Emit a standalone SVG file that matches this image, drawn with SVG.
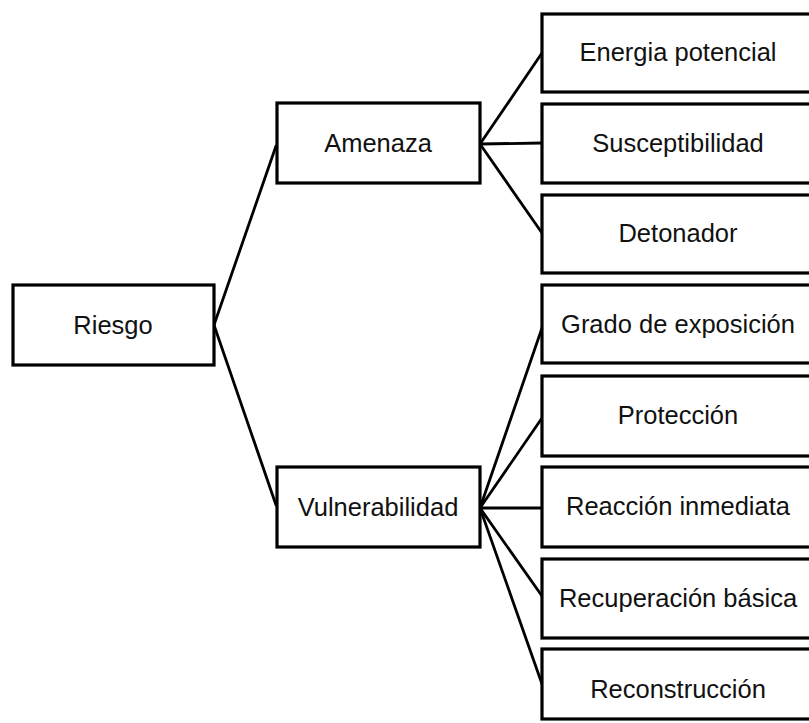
<svg xmlns="http://www.w3.org/2000/svg" width="809" height="723" viewBox="0 0 809 723">
<style>
.box{fill:#fff;stroke:#000;stroke-width:3.2}
.lbl{font-family:"Liberation Sans",Arial,sans-serif;font-size:25.5px;fill:#111;text-anchor:middle}
.conn line{stroke:#000;stroke-width:2.8;stroke-linecap:round}
</style>
<rect width="809" height="723" fill="#fff"/>
<g class="conn" id="connectors">
<line x1="214" y1="325" x2="276" y2="146"/>
<line x1="214" y1="325" x2="276" y2="505"/>
<line x1="480" y1="144" x2="542" y2="53"/>
<line x1="480" y1="144" x2="542" y2="143"/>
<line x1="480" y1="144" x2="542" y2="233"/>
<line x1="480" y1="508" x2="542" y2="328"/>
<line x1="480" y1="508" x2="542" y2="418"/>
<line x1="480" y1="508" x2="542" y2="508"/>
<line x1="480" y1="508" x2="542" y2="596"/>
<line x1="480" y1="508" x2="542" y2="684"/>
</g>
<g id="riesgo"><rect class="box" x="13" y="285" width="201" height="80"/><text class="lbl" x="113" y="334">Riesgo</text></g>
<g id="amenaza"><rect class="box" x="277" y="103" width="203" height="80"/><text class="lbl" x="378" y="152">Amenaza</text></g>
<g id="vulnerabilidad"><rect class="box" x="277" y="467" width="203" height="80"/><text class="lbl" x="378" y="516">Vulnerabilidad</text></g>
<g id="energia"><rect class="box" x="542" y="14" width="280" height="78"/><text class="lbl" x="678" y="61">Energia potencial</text></g>
<g id="susceptibilidad"><rect class="box" x="542" y="104" width="280" height="79"/><text class="lbl" x="678" y="152">Susceptibilidad</text></g>
<g id="detonador"><rect class="box" x="542" y="195" width="280" height="78"/><text class="lbl" x="678" y="242">Detonador</text></g>
<g id="grado"><rect class="box" x="542" y="285" width="280" height="78"/><text class="lbl" x="678" y="333">Grado de exposición</text></g>
<g id="proteccion"><rect class="box" x="542" y="376" width="280" height="80"/><text class="lbl" x="678" y="424">Protección</text></g>
<g id="reaccion"><rect class="box" x="542" y="467" width="280" height="80"/><text class="lbl" x="678" y="515">Reacción inmediata</text></g>
<g id="recuperacion"><rect class="box" x="542" y="559" width="280" height="79"/><text class="lbl" x="678" y="607">Recuperación básica</text></g>
<g id="reconstruccion"><rect class="box" x="542" y="649" width="280" height="70"/><text class="lbl" x="678" y="698">Reconstrucción</text></g>
</svg>
